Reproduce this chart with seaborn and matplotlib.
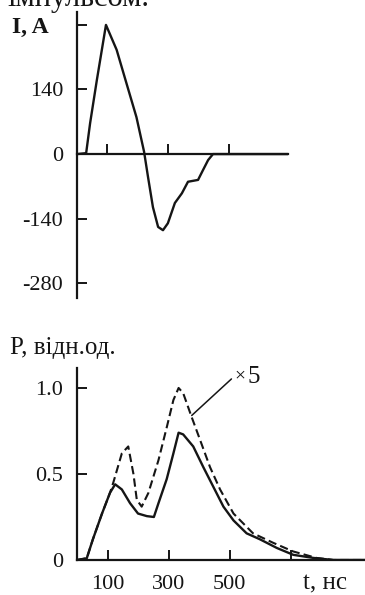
import matplotlib
matplotlib.use("Agg")
import matplotlib.pyplot as plt
import seaborn as sns
import numpy as np

# ---- data: current pulse I(t) ----
t_I = [0, 30, 43, 65, 95, 130, 162, 195, 220, 233, 249, 266, 282, 298, 321, 344, 364, 397, 413, 430, 446, 692]
I_vals = [0, 2, 67, 160, 280, 226, 154, 80, 5, -50, -115, -158, -165, -150, -106, -85, -60, -56, -35, -13, 0, 0]

# ---- data: radiation power P(t) ----
t_P = [0, 32, 52, 82, 108, 125, 147, 174, 200, 229, 252, 267, 294, 316, 333, 348, 381, 414, 447, 480, 513, 556, 600, 655, 709, 775, 840, 944]
P_solid = [0, 0.01, 0.12, 0.27, 0.39, 0.44, 0.41, 0.33, 0.27, 0.255, 0.25, 0.33, 0.47, 0.62, 0.74, 0.73, 0.66, 0.54, 0.425, 0.31, 0.23, 0.155, 0.12, 0.07, 0.03, 0.012, 0.0, 0.0]

t_D = [0, 32, 52, 82, 108, 119, 147, 168, 185, 196, 212, 234, 267, 294, 316, 333, 348, 376, 403, 436, 469, 513, 577, 643, 708, 785, 840, 944]
P_dashed = [0, 0.01, 0.12, 0.27, 0.39, 0.45, 0.62, 0.66, 0.50, 0.35, 0.31, 0.39, 0.58, 0.77, 0.93, 1.0, 0.97, 0.83, 0.70, 0.54, 0.41, 0.27, 0.155, 0.10, 0.05, 0.012, 0.0, 0.0]

I_ticks = [-280, -140, 0, 140, 280]
I_ticklabels = ["-280", "-140", "0", "140", ""]
P_ticks = [0, 0.5, 1.0]
P_ticklabels = ["0", "0.5", "1.0"]
t_ticks = [100, 300, 500, 700]
t_ticklabels = ["100", "300", "500", ""]

sns.set_style("white")
plt.rcParams["font.family"] = ["Liberation Serif", "DejaVu Serif"]

W, H = 365, 595
fig = plt.figure(figsize=(W / 100, H / 100), dpi=100)
fig.patch.set_facecolor("white")

LC = "#151515"
TICK = dict(direction="in", length=7, width=1.4, colors=LC, labelsize=16, pad=10,
            left=True, bottom=True)

def px_axes(x0, y0, x1, y1):
    return fig.add_axes([x0 / W, 1 - y1 / H, (x1 - x0) / W, (y1 - y0) / H])

# ---- top axes ----
ax1 = px_axes(77, 12, 288, 298)
sns.lineplot(x=t_I, y=I_vals, ax=ax1, color=LC, lw=1.7, sort=False)
ax1.set_xlim(0, 692)
ax1.set_ylim(-312, 308)
for s in ["top", "right"]:
    ax1.spines[s].set_visible(False)
ax1.spines["bottom"].set_position(("data", 0))
for s in ["left", "bottom"]:
    ax1.spines[s].set_linewidth(1.6)
    ax1.spines[s].set_color(LC)
ax1.set_yticks(I_ticks)
ax1.set_yticklabels(I_ticklabels)
ax1.set_xticks(t_ticks[:3])
ax1.set_xticklabels([])
ax1.tick_params(axis="both", **TICK)
ax1.set_xlabel("")
ax1.set_ylabel("")
ax1.patch.set_alpha(0)

# ---- bottom axes ----
ax2 = px_axes(77, 368, 365, 560)
sns.lineplot(x=t_P, y=P_solid, ax=ax2, color=LC, lw=1.7, sort=False)
sns.lineplot(x=t_D, y=P_dashed, ax=ax2, color=LC, lw=1.5, sort=False, linestyle=(0, (4, 2)))
ax2.set_xlim(0, 944)
ax2.set_ylim(0, 1.116)
for s in ["top", "right"]:
    ax2.spines[s].set_visible(False)
for s in ["left", "bottom"]:
    ax2.spines[s].set_linewidth(1.6)
    ax2.spines[s].set_color(LC)
ax2.set_yticks(P_ticks)
ax2.set_yticklabels(P_ticklabels)
ax2.set_xticks(t_ticks)
ax2.set_xticklabels(t_ticklabels)
ax2.tick_params(axis="both", **TICK)
ax2.tick_params(axis="x", pad=11)
ax2.set_xlabel("")
ax2.set_ylabel("")
ax2.patch.set_alpha(0)

ax2.annotate("×", xy=(376, 0.84), xytext=(517, 1.07), fontsize=14, color=LC,
             ha="left", va="center",
             arrowprops=dict(arrowstyle="-", lw=1.1, color=LC, shrinkA=0, shrinkB=0,
                             relpos=(0, 0.5)))
ax2.text(560, 1.064, "5", fontsize=18, color=LC, ha="left", va="center")

# ---- text labels ----
fig.text(7 / W, 1 - 6 / H, "імпульсом.", fontsize=22, color=LC, ha="left", va="baseline")
fig.text(12 / W, 1 - 27 / H, "I, A", fontsize=17, fontweight="bold", color=LC, ha="left", va="center")
fig.text(10 / W, 1 - 348 / H, "P, відн.од.", fontsize=18, color=LC, ha="left", va="center")
fig.text(303 / W, 1 - 589 / H, "t, нс", fontsize=18, color=LC, ha="left", va="baseline")

fig.savefig("out.png", dpi=100, facecolor="white")
